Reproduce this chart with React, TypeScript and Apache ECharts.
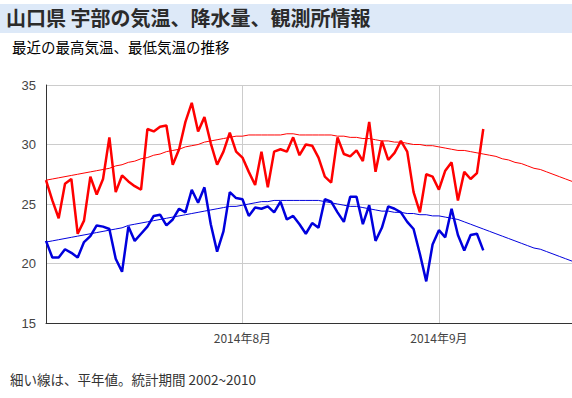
import React, { useEffect, useRef } from "react";
import * as echarts from "echarts";

// Dates: 2014-07-01 .. 2014-09-22
const startDate = new Date(Date.UTC(2014, 6, 1));
const dates: string[] = [];
for (let i = 0; i < 84; i++) {
  const d = new Date(startDate.getTime() + i * 86400000);
  dates.push(`${d.getUTCFullYear()}-${d.getUTCMonth() + 1}-${d.getUTCDate()}`);
}

const yTicks = [15, 20, 25, 30, 35];
const monthLabels: Record<string, string> = { "2014-8-1": "2014年8月", "2014-9-1": "2014年9月" };

const maxTemp = [
  27.0, 25.3, 23.8, 26.7, 27.1, 22.5, 23.6, 27.3, 25.8, 27.1,
  30.6, 26.0, 27.4, 26.9, 26.5, 26.2, 31.3, 31.1, 31.5, 31.6,
  28.3, 29.6, 31.9, 33.5, 31.1, 32.3, 30.1, 28.3, 29.4, 31.0,
  29.4, 28.9, 27.7, 26.6, 29.4, 26.4, 29.4, 29.6, 29.4, 30.6,
  29.1, 30.0, 29.9, 28.9, 27.3, 26.8, 30.6, 29.2, 29.0, 29.5,
  28.6, 31.9, 27.7, 30.3, 28.7, 29.3, 30.3, 29.4, 26.0, 24.3,
  27.5, 27.3, 26.2, 27.8, 28.5, 25.3, 27.7, 27.1, 27.6, 31.3,
];

const minTemp = [
  21.9, 20.5, 20.5, 21.2, 20.9, 20.5, 21.8, 22.3, 23.2, 23.1,
  22.9, 20.4, 19.3, 23.1, 21.9, 22.5, 23.1, 24.0, 24.1, 23.2,
  23.7, 24.6, 24.3, 26.2, 25.1, 26.4, 23.3, 21.0, 22.7, 26.0,
  25.5, 25.4, 24.0, 24.7, 24.6, 24.8, 24.3, 25.2, 23.7, 24.0,
  23.3, 22.5, 23.4, 23.0, 25.4, 25.2, 24.3, 23.5, 25.6, 25.6,
  23.3, 24.9, 21.9, 23.0, 24.8, 24.6, 24.3, 23.5, 22.9, 20.8,
  18.5, 21.6, 22.8, 22.2, 24.6, 22.4, 21.1, 22.4, 22.5, 21.1,
];

const normalMax = [
  27.0, 27.1, 27.2, 27.3, 27.4, 27.5, 27.6, 27.7, 27.8, 27.9,
  28.0, 28.2, 28.3, 28.5, 28.6, 28.8, 28.9, 29.1, 29.2, 29.4,
  29.5, 29.6, 29.8, 29.9, 30.0, 30.2, 30.3, 30.4, 30.5, 30.6,
  30.7, 30.7, 30.8, 30.8, 30.8, 30.8, 30.8, 30.8, 30.9, 30.9,
  30.8, 30.8, 30.8, 30.8, 30.8, 30.8, 30.7, 30.7, 30.6, 30.6,
  30.5, 30.5, 30.4, 30.3, 30.3, 30.2, 30.2, 30.1, 30.0, 30.0,
  29.9, 29.9, 29.8, 29.7, 29.6, 29.5, 29.5, 29.4, 29.3, 29.2,
  29.1, 29.0, 28.8, 28.7, 28.5, 28.4, 28.2, 28.0, 27.9, 27.7,
  27.5, 27.3, 27.1, 26.9,
];

const normalMin = [
  21.8, 21.9, 22.0, 22.1, 22.2, 22.3, 22.4, 22.5, 22.6, 22.7,
  22.8, 22.9, 23.0, 23.2, 23.3, 23.4, 23.5, 23.6, 23.7, 23.8,
  23.9, 24.0, 24.1, 24.2, 24.3, 24.4, 24.5, 24.6, 24.7, 24.8,
  24.8, 24.9, 25.0, 25.1, 25.2, 25.2, 25.3, 25.3, 25.3, 25.3,
  25.3, 25.3, 25.3, 25.3, 25.2, 25.1, 25.0, 24.9, 24.8, 24.8,
  24.7, 24.6, 24.5, 24.4, 24.4, 24.3, 24.3, 24.2, 24.2, 24.1,
  24.1, 24.0, 24.0, 23.9, 23.8, 23.7, 23.5, 23.3, 23.1, 22.9,
  22.7, 22.5, 22.3, 22.1, 21.9, 21.7, 21.5, 21.3, 21.2, 21.0,
  20.8, 20.6, 20.4, 20.2,
];

const JP = '"Noto Sans CJK JP", sans-serif';
const NUM = '"Liberation Sans", Arial, sans-serif';

export default function App() {
  const ref = useRef<HTMLDivElement>(null);
  useEffect(() => {
    if (!ref.current) return;
    const chart = echarts.init(ref.current, null, { renderer: "svg" });
    const isMonth = (_i: number, v: string) => v in monthLabels;
    chart.setOption({
      animation: false,
      backgroundColor: "#ffffff",
      graphic: [
        { type: "rect", shape: { x: 0, y: 4, width: 572, height: 29 }, style: { fill: "#dde9f8" }, silent: true },
        {
          type: "text", x: 6, y: 7,
          style: { text: "山口県 宇部の気温、降水量、観測所情報", fill: "#2b2b2b", font: `bold 20px ${JP}` },
        },
        {
          type: "text", x: 12, y: 39,
          style: { text: "最近の最高気温、最低気温の推移", fill: "#000000", font: `14.5px ${JP}` },
        },
        {
          type: "text", x: 10, y: 372,
          style: { text: "細い線は、平年値。統計期間 2002~2010", fill: "#333333", font: `13.5px ${JP}` },
        },
      ],
      grid: { left: 46, top: 85, right: 0, bottom: 75, containLabel: false },
      xAxis: {
        type: "category",
        data: dates,
        boundaryGap: false,
        axisLine: { show: true, lineStyle: { color: "#333333", width: 1 } },
        axisTick: { show: false },
        axisLabel: {
          interval: isMonth,
          formatter: (v: string) => monthLabels[v] || "",
          color: "#444444",
          fontSize: 12,
          fontFamily: JP,
          margin: 8,
        },
        splitLine: { show: true, interval: isMonth, lineStyle: { color: "#cccccc", width: 1 } },
      },
      yAxis: {
        type: "value",
        min: yTicks[0],
        max: yTicks[yTicks.length - 1],
        interval: 5,
        axisLine: { show: true, lineStyle: { color: "#333333", width: 1 } },
        axisTick: { show: false },
        axisLabel: { color: "#444444", fontSize: 13, fontFamily: NUM, margin: 10 },
        splitLine: { show: true, lineStyle: { color: "#cccccc", width: 1 } },
      },
      series: [
        {
          name: "平年最高", type: "line", data: normalMax, symbol: "none",
          lineStyle: { color: "#ff0000", width: 1 }, itemStyle: { color: "#ff0000" }, z: 2,
        },
        {
          name: "平年最低", type: "line", data: normalMin, symbol: "none",
          lineStyle: { color: "#0000dd", width: 1 }, itemStyle: { color: "#0000dd" }, z: 2,
        },
        {
          name: "最高気温", type: "line", data: maxTemp, symbol: "none",
          lineStyle: { color: "#ff0000", width: 2.5 }, itemStyle: { color: "#ff0000" }, z: 3,
        },
        {
          name: "最低気温", type: "line", data: minTemp, symbol: "none",
          lineStyle: { color: "#0000dd", width: 2.5 }, itemStyle: { color: "#0000dd" }, z: 3,
        },
      ],
    });
    return () => chart.dispose();
  }, []);
  return (
    <div
      ref={ref}
      style={{ position: "absolute", left: 0, top: 0, width: 572, height: 398 }}
    />
  );
}
